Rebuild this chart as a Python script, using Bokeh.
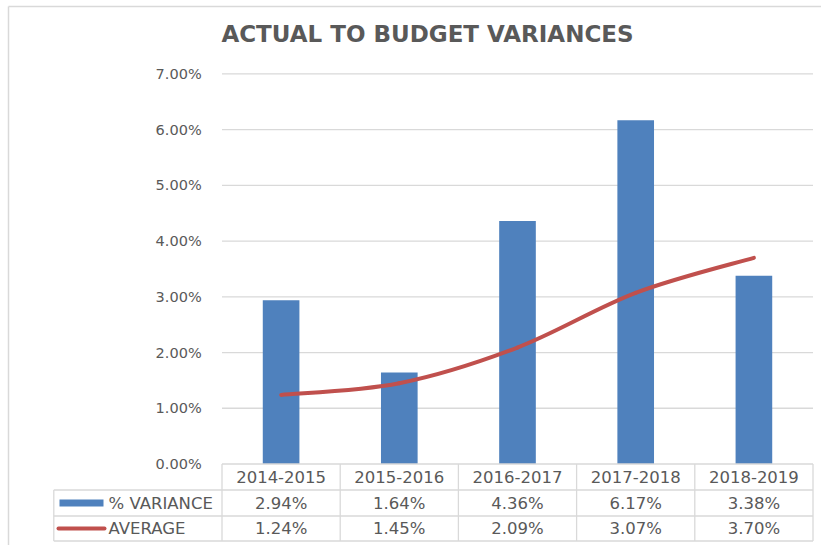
from bokeh.plotting import figure
from bokeh.models import ColumnDataSource, Range1d
from bokeh.core.properties import value
from bokeh.embed import file_html
from bokeh.resources import INLINE

# ---- data ----
categories = ["2014-2015", "2015-2016", "2016-2017", "2017-2018", "2018-2019"]
variance = [2.94, 1.64, 4.36, 6.17, 3.38]
average = [1.24, 1.45, 2.09, 3.07, 3.70]
y_ticks = [0, 1, 2, 3, 4, 5, 6, 7]
y_tick_labels = ["0.00%", "1.00%", "2.00%", "3.00%", "4.00%", "5.00%", "6.00%", "7.00%"]
series_names = ["% VARIANCE", "AVERAGE"]
title_text = "ACTUAL TO BUDGET VARIANCES"

BLUE = "#4f81bd"
RED = "#c0504d"
GRID = "#d9d9d9"
TXT = "#595959"
FONT = value("DejaVu Sans")

W, H = 821, 545
PXU = 118.2     # pixels per category
PYU = 55.73     # pixels per 1 %
X0 = -280.6 / PXU
X1 = X0 + W / PXU
Y1 = 463.5 / PYU
Y0 = Y1 - H / PYU

p = figure(width=W, height=H, output_backend="svg", toolbar_location=None,
           x_range=Range1d(X0, X1), y_range=Range1d(Y0, Y1),
           x_axis_type=None, y_axis_type=None, min_border=0,
           background_fill_color="white", border_fill_color="white")
p.grid.visible = False
p.outline_line_color = None

n = len(categories)
xs = list(range(n))

# chart border (left and top)
bxl = X0 + 8 / PXU
byt = Y1 - 6 / PYU
p.segment(x0=[bxl, bxl], y0=[Y0, byt], x1=[bxl, X1], y1=[byt, byt],
          line_color=GRID, line_width=1.5)

# gridlines
p.segment(x0=[-0.5] * (len(y_ticks) - 1), y0=y_ticks[1:], x1=[n - 0.5] * (len(y_ticks) - 1), y1=y_ticks[1:],
          line_color=GRID, line_width=1.3)

# y tick labels
p.text(x=[-0.672] * len(y_ticks), y=y_ticks, text=y_tick_labels, text_align="right",
       text_baseline="middle", text_font=FONT, text_font_size="14.5px", text_color=TXT)

# bars
src = ColumnDataSource(dict(x=xs, top=variance))
p.vbar(x="x", top="top", bottom=0, width=0.31, source=src, fill_color=BLUE, line_color=None)

# smoothed average line (bezier segments, Excel-style smoothing)
def ext(i):
    i = max(0, min(n - 1, i))
    return xs[i], average[i]

bx0, by0, bx1, by1, c0x, c0y, c1x, c1y = [], [], [], [], [], [], [], []
for i in range(n - 1):
    xa, ya = ext(i - 1)
    xb, yb = ext(i)
    xc, yc = ext(i + 1)
    xd, yd = ext(i + 2)
    bx0.append(xb); by0.append(yb); bx1.append(xc); by1.append(yc)
    c0x.append(xb + (xc - xa) / 6.0); c0y.append(yb + (yc - ya) / 6.0)
    c1x.append(xc - (xd - xb) / 6.0); c1y.append(yc - (yd - yb) / 6.0)
p.bezier(x0=bx0, y0=by0, x1=bx1, y1=by1, cx0=c0x, cy0=c0y, cx1=c1x, cy1=c1y,
         line_color=RED, line_width=4, line_cap="round")

# ---- data table ----
r0 = 0.0
r1 = -26 / PYU
r2 = -52 / PYU
r3 = -77 / PYU
left_edge = X0 + 53.3 / PXU
# horizontal lines
p.segment(x0=[-0.5, left_edge, left_edge, left_edge], y0=[r0, r1, r2, r3],
          x1=[n - 0.5] * 4, y1=[r0, r1, r2, r3], line_color=GRID, line_width=1.3)
# vertical lines
vx = [i - 0.5 for i in range(n + 1)]
p.segment(x0=vx, y0=[r0] * len(vx), x1=vx, y1=[r3] * len(vx), line_color=GRID, line_width=1.3)
p.segment(x0=[left_edge], y0=[r1], x1=[left_edge], y1=[r3], line_color=GRID, line_width=1.3)

hc = (r0 + r1) / 2
c1 = (r1 + r2) / 2
c2 = (r2 + r3) / 2
p.text(x=xs, y=[hc] * n, text=categories, text_align="center", text_baseline="middle",
       text_font=FONT, text_font_size="16.5px", text_color=TXT)
p.text(x=xs, y=[c1] * n, text=[f"{v:.2f}%" for v in variance], text_align="center",
       text_baseline="middle", text_font=FONT, text_font_size="16.5px", text_color=TXT)
p.text(x=xs, y=[c2] * n, text=[f"{v:.2f}%" for v in average], text_align="center",
       text_baseline="middle", text_font=FONT, text_font_size="16.5px", text_color=TXT)

# legend keys
kx0 = X0 + 59 / PXU
kx1 = X0 + 103 / PXU
p.quad(left=[kx0], right=[kx1], bottom=[c1 - 3.5 / PYU], top=[c1 + 3.5 / PYU], fill_color=BLUE, line_color=None)
p.segment(x0=[X0 + 58 / PXU], y0=[c2], x1=[X0 + 104 / PXU], y1=[c2], line_color=RED, line_width=4, line_cap="round")
lx = X0 + 108 / PXU
p.text(x=[lx, lx], y=[c1, c2], text=series_names, text_align="left", text_baseline="middle",
       text_font=FONT, text_font_size="16.5px", text_color=TXT)

# title
p.text(x=[X0 + 427 / PXU], y=[Y1 - 33 / PYU], text=[title_text], text_align="center", text_baseline="middle",
       text_font=FONT, text_font_style="bold", text_font_size="23px", text_color=TXT)

open("out.html", "w").write(file_html(p, INLINE))
